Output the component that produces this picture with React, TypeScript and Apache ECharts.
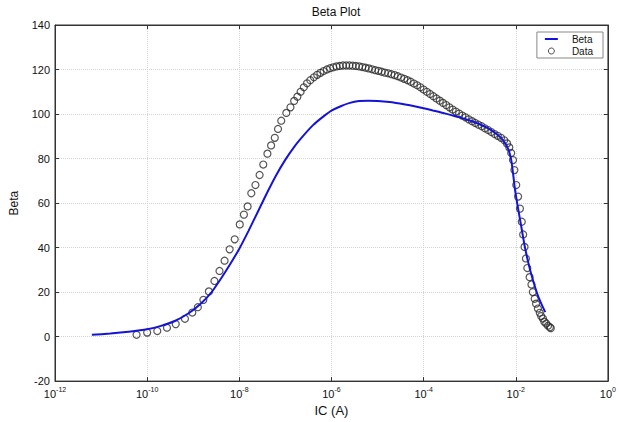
import React, { useEffect, useRef } from "react";
import * as echarts from "echarts";

// log10(IC) positions and Beta values of the model curve
const betaLogIc = [
  -11.2, -10.8, -10.4, -10.0, -9.7, -9.4, -9.1, -8.85, -8.6, -8.4, -8.2, -8.0,
  -7.8, -7.6, -7.4, -7.2, -7.0, -6.8, -6.6, -6.4, -6.2, -6.0, -5.8, -5.6, -5.4,
  -5.2, -5.0, -4.8, -4.6, -4.4, -4.2, -4.0, -3.8, -3.6, -3.4, -3.2, -3.0, -2.8,
  -2.6, -2.45, -2.32, -2.22, -2.15, -2.1, -2.06, -2.02, -1.97, -1.92, -1.86,
  -1.8, -1.72, -1.63, -1.53, -1.44, -1.36,
];
const betaValues = [
  0.8, 1.4, 2.2, 3.3, 4.8, 7.0, 10.5, 14.5, 20.0, 26.0, 32.5, 39.5, 47.5, 56.0,
  64.5, 72.5, 79.5, 85.5, 90.5, 95.0, 98.5, 101.5, 103.5, 105.0, 105.8, 106.0,
  105.9, 105.5, 105.0, 104.3, 103.5, 102.6, 101.6, 100.6, 99.5, 98.4, 97.1,
  95.5, 93.5, 91.5, 89.3, 86.5, 83.5, 79.5, 73.5, 66.5, 60.0, 54.0, 47.0, 40.0,
  32.5, 25.5, 19.0, 14.5, 11.0,
];

// log10(IC) positions and measured Beta values
const dataLogIc = [
  -10.23, -10.0, -9.78, -9.57, -9.38, -9.18, -9.02, -8.9, -8.78, -8.66, -8.54,
  -8.43, -8.32, -8.21, -8.1, -7.99, -7.9, -7.82, -7.74, -7.65, -7.56, -7.48,
  -7.39, -7.31, -7.23, -7.16, -7.09, -6.98, -6.89, -6.81, -6.74, -6.67, -6.6,
  -6.53, -6.46, -6.38, -6.31, -6.24, -6.17, -6.1, -6.03, -5.96, -5.89, -5.82,
  -5.75, -5.68, -5.61, -5.54, -5.47, -5.4, -5.33, -5.26, -5.19, -5.12, -5.05,
  -4.98, -4.91, -4.84, -4.77, -4.7, -4.63, -4.56, -4.49, -4.42, -4.35, -4.28,
  -4.21, -4.14, -4.07, -4.0, -3.93, -3.86, -3.79, -3.72, -3.65, -3.58, -3.51,
  -3.44, -3.37, -3.3, -3.23, -3.16, -3.09, -3.02, -2.95, -2.88, -2.81, -2.74,
  -2.67, -2.6, -2.53, -2.46, -2.39, -2.32, -2.25, -2.19, -2.14, -2.1, -2.06,
  -2.03, -1.99, -1.95, -1.91, -1.87, -1.84, -1.81, -1.78, -1.75, -1.7, -1.66,
  -1.63, -1.59, -1.56, -1.52, -1.48, -1.45, -1.41, -1.38, -1.34, -1.3, -1.26,
  -1.24,
];
const dataValues = [
  0.8, 1.8, 2.5, 4.0, 5.6, 8.0, 10.8, 13.2, 16.5, 20.3, 25.0, 29.5, 34.1, 39.2,
  43.7, 50.4, 54.8, 58.5, 64.4, 68.1, 72.6, 77.3, 82.2, 85.9, 89.3, 93.3, 97.0,
  100.5, 103.0, 105.9, 107.8, 110.0, 112.0, 113.8, 115.2, 116.5, 117.6, 118.5,
  119.3, 120.0, 120.6, 121.0, 121.4, 121.6, 121.8, 121.8, 121.8, 121.7, 121.6,
  121.4, 121.1, 120.8, 120.5, 120.1, 119.7, 119.4, 119.0, 118.6, 118.3, 117.9,
  117.5, 117.0, 116.4, 115.8, 115.2, 114.5, 113.7, 112.9, 112.0, 111.0, 110.0,
  109.0, 108.0, 107.0, 106.0, 105.0, 104.0, 103.0, 102.0, 101.1, 100.2, 99.3,
  98.5, 97.6, 96.8, 96.0, 95.2, 94.5, 93.6, 92.8, 91.9, 91.0, 90.2, 89.3, 88.2,
  86.8, 85.0, 82.5, 79.3, 74.8, 68.1, 62.9, 57.5, 51.6, 45.9, 40.3, 35.1, 30.8,
  26.7, 23.4, 20.0, 17.0, 14.8, 12.6, 10.7, 9.2, 8.1, 6.7, 5.9, 4.9, 4.2, 3.8,
];

const titleText = "Beta Plot";
const xAxisName = "IC (A)";
const yAxisName = "Beta";
const seriesNames = ["Beta", "Data"];

const FONT = "Liberation Sans, Arial, Helvetica, sans-serif";

export default function App() {
  const ref = useRef<HTMLDivElement>(null);
  useEffect(() => {
    if (!ref.current) return;
    const chart = echarts.init(ref.current, undefined, { renderer: "svg" });
    const betaData = betaLogIc.map((x, i) => [x, betaValues[i]]);
    const measured = dataLogIc.map((x, i) => [x, dataValues[i]]);
    const gridLine = {
      show: true,
      lineStyle: { color: "#d4d4d4", type: "dotted" as const, width: 1 },
    };
    const axisLine = {
      show: true,
      onZero: false,
      lineStyle: { color: "#333", width: 1 },
    };
    const axisTick = {
      show: true,
      inside: true,
      length: 4,
      lineStyle: { color: "#333" },
    };
    chart.setOption({
      animation: false,
      backgroundColor: "#fff",
      textStyle: { fontFamily: FONT },
      graphic: [
        {
          type: "text",
          x: 336,
          y: 6,
          style: {
            text: titleText,
            textAlign: "center",
            fontSize: 12,
            fontFamily: FONT,
            fill: "#111",
          },
        },
      ],
      legend: {
        data: [
          { name: seriesNames[0], itemStyle: { opacity: 0 } },
          {
            name: seriesNames[1],
            itemStyle: { color: "rgba(0,0,0,0)", borderColor: "#222", borderWidth: 1 },
          },
        ],
        orient: "vertical",
        right: 16,
        top: 32,
        backgroundColor: "#fff",
        borderColor: "#888",
        borderWidth: 1,
        borderRadius: 0,
        padding: [1, 10, 1, 7],
        itemGap: 0,
        itemWidth: 13,
        itemHeight: 6,
        textStyle: {
          fontSize: 10,
          lineHeight: 12,
          color: "#111",
          fontFamily: FONT,
          padding: [0, 0, 0, 9],
        },
      },
      grid: {
        left: 55,
        right: 5,
        top: 25,
        bottom: 37,
        show: true,
        borderColor: "#333",
        borderWidth: 1,
        backgroundColor: "#fff",
      },
      xAxis: [
        {
          type: "value",
          min: -12,
          max: 0,
          interval: 2,
          name: xAxisName,
          nameLocation: "middle",
          nameGap: 22,
          nameTextStyle: { fontSize: 13, color: "#111", fontFamily: FONT },
          axisLine,
          axisTick,
          splitLine: gridLine,
          axisLabel: {
            margin: 5,
            color: "#111",
            formatter: (v: number) => `{b|10}{s|${v}}`,
            rich: {
              b: { fontSize: 11, fontFamily: FONT, color: "#111" },
              s: { fontSize: 7, fontFamily: FONT, color: "#111", padding: [0, 0, 8, 0] },
            },
          },
        },
        {
          type: "value",
          position: "top",
          min: -12,
          max: 0,
          interval: 2,
          axisLine,
          axisTick,
          axisLabel: { show: false },
          splitLine: { show: false },
        },
      ],
      yAxis: [
        {
          type: "value",
          min: -20,
          max: 140,
          interval: 20,
          name: yAxisName,
          nameLocation: "middle",
          nameGap: 35,
          nameTextStyle: { fontSize: 12, color: "#111", fontFamily: FONT },
          axisLine,
          axisTick,
          splitLine: gridLine,
          axisLabel: { margin: 5, fontSize: 11, color: "#111", fontFamily: FONT },
        },
        {
          type: "value",
          position: "right",
          min: -20,
          max: 140,
          interval: 20,
          axisLine,
          axisTick,
          axisLabel: { show: false },
          splitLine: { show: false },
        },
      ],
      series: [
        {
          name: seriesNames[0],
          type: "line",
          data: betaData,
          showSymbol: false,
          symbol: "none",
          smooth: 0.2,
          lineStyle: { color: "#1414d8", width: 2 },
          itemStyle: { color: "#1414d8" },
          z: 3,
        },
        {
          name: seriesNames[1],
          type: "scatter",
          data: measured,
          symbol: "circle",
          symbolSize: 7,
          itemStyle: {
            color: "rgba(0,0,0,0)",
            borderColor: "#2a2a2a",
            borderWidth: 1.2,
          },
          z: 2,
        },
      ],
    });
    return () => chart.dispose();
  }, []);
  return (
    <div
      ref={ref}
      style={{ position: "absolute", left: 0, top: 0, width: 619, height: 422 }}
    />
  );
}
